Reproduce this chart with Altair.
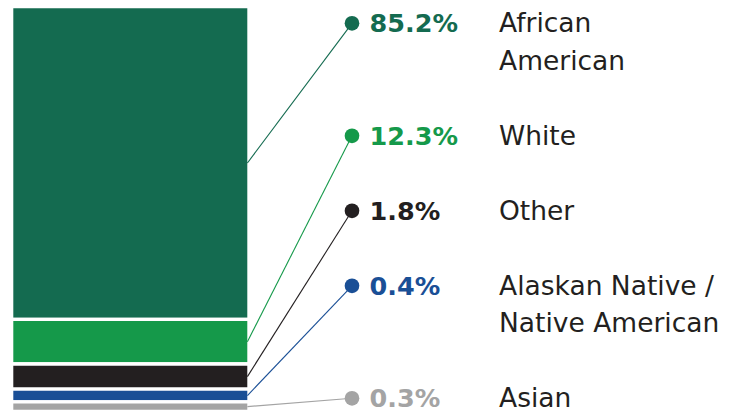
import altair as alt
import numpy as np
import pandas as pd

# ---- data ----
CATEGORIES = ["African American", "White", "Other",
              "Alaskan Native / Native American", "Asian"]
NAME_LINES = ["African\nAmerican", "White", "Other",
              "Alaskan Native /\nNative American", "Asian"]
VALUES = [85.2, 12.3, 1.8, 0.4, 0.3]
PCT_LABELS = ["85.2%", "12.3%", "1.8%", "0.4%", "0.3%"]
COLORS = ["#146b50", "#15994a", "#231f20", "#1a4f96", "#a4a4a4"]

# ---- derived table ----
n = len(VALUES)
vals_bottom_up = VALUES[::-1]                      # Asian at the bottom of the bar
edges = np.concatenate([[0.0], np.cumsum(vals_bottom_up)])
lower = [float(x) for x in edges[:-1][::-1]]
upper = [float(x) for x in edges[1:][::-1]]
mid = [(lo + hi) / 2 for lo, hi in zip(lower, upper)]
lines = [s.count("\n") + 1 for s in NAME_LINES]
slot = [0]
for k in lines[:-1]:
    slot.append(slot[-1] + k + 1)

df = pd.DataFrame({
    "category": CATEGORIES,
    "name": NAME_LINES,
    "value": VALUES,
    "pct": PCT_LABELS,
    "lower": lower,
    "upper": upper,
    "mid": mid,
    "slot": slot,
})

# ---- layout / styling ----
W, H = 731, 407
BAR_X, BAR_X2 = 3.65, 240.95          # stroked bar edges
LINE_X2 = 239.4                        # visible right edge of bar
DOT_X = 344
PCT_X = 361.5
NAME_X = 491
DOT_DY = -9
GAP = 3.3
# piecewise (stretched) bar scale: cumulative share -> pixel
BAR_RANGE = [403.35, 393.85, 381.2, 356.0, 311.35, -1.35]
bar_scale = alt.Scale(domain=[float(e) for e in edges], range=BAR_RANGE,
                      zero=False, nice=False)
label_scale = alt.Scale(domain=[0, max(slot)], range=[24.3, 399.3],
                        zero=False, nice=False)
color = alt.Color("category:N", scale=alt.Scale(domain=CATEGORIES, range=COLORS),
                  legend=None)

base = alt.Chart(df)

bars = base.mark_bar(stroke="white", strokeWidth=GAP).encode(
    x=alt.value(BAR_X), x2=alt.value(BAR_X2),
    y=alt.Y("upper:Q", scale=bar_scale, axis=None),
    y2="lower:Q",
    color=color,
)

rules = base.mark_rule(strokeWidth=1.1, yOffset=DOT_DY).encode(
    y=alt.Y("slot:Q", scale=label_scale, axis=None),
    y2=alt.value({"expr": "scale('layer_0_y', datum.mid)"}),
    x=alt.value(DOT_X), x2=alt.value(LINE_X2),
    color=color,
)

dots = base.mark_circle(size=215, opacity=1, yOffset=DOT_DY).encode(
    x=alt.value(DOT_X),
    y=alt.Y("slot:Q", scale=label_scale, axis=None),
    color=color,
)

pcts = base.mark_text(align="left", baseline="alphabetic", font="DejaVu Sans",
                      fontSize=25.5, fontWeight="bold").encode(
    x=alt.value(PCT_X),
    y=alt.Y("slot:Q", scale=label_scale, axis=None),
    text="pct:N",
    color=color,
)

names = base.transform_calculate(lines="split(datum.name, '\\n')").mark_text(
    align="left", baseline="alphabetic", font="DejaVu Sans", fontSize=26.5,
    lineHeight=37.5, color="#231f20").encode(
    x=alt.value(NAME_X),
    y=alt.Y("slot:Q", scale=label_scale, axis=None),
    text="lines:N",
)

chart = alt.layer(bars, rules, dots, pcts, names).resolve_scale(
    y="independent"
).properties(
    width=W, height=H, padding=0,
    autosize=alt.AutoSizeParams(type="none"),
).configure_view(stroke=None)

chart.save("out.html", embed_options={"renderer": "svg", "actions": False})
